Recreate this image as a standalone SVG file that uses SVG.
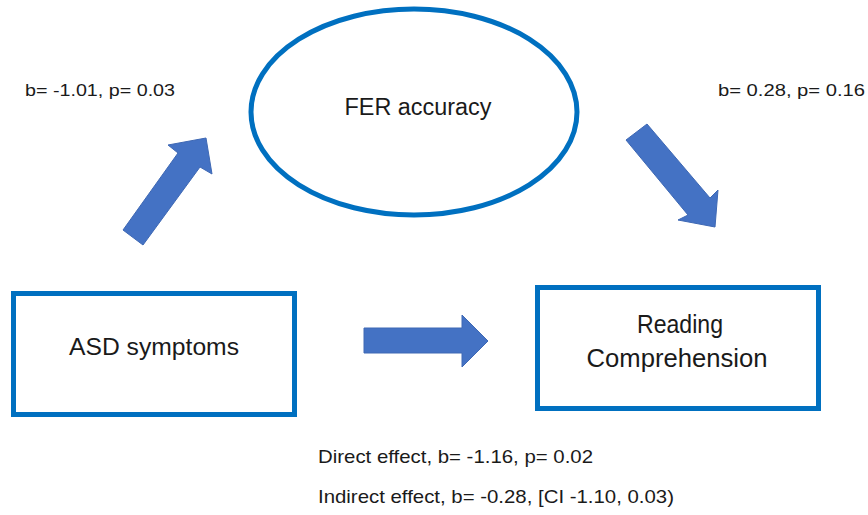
<svg xmlns="http://www.w3.org/2000/svg" width="868" height="515" viewBox="0 0 868 515">
  <style>
    .node { fill: #FFFFFF; stroke: #0070C0; stroke-width: 5; }
    .arrow { fill: #4472C4; stroke: #3E68B4; stroke-width: 1; stroke-linejoin: miter; }
    .t { font-family: "Liberation Sans", Arial, sans-serif; fill: #1A1A1A; }
    .big { font-size: 23px; }
    .small { font-size: 16px; }
    .mid { font-size: 19px; }
  </style>
  <rect x="0" y="0" width="868" height="515" fill="#FFFFFF"/>

  <g id="fer-accuracy">
    <ellipse class="node" cx="414" cy="112" rx="163" ry="103" stroke-width="4.5"/>
    <text class="t big" x="418" y="115" text-anchor="middle" textLength="147" lengthAdjust="spacingAndGlyphs">FER accuracy</text>
  </g>

  <g id="asd-symptoms">
    <rect class="node" x="13.5" y="293.5" width="281" height="121"/>
    <text class="t big" x="154" y="355" text-anchor="middle" textLength="170" lengthAdjust="spacingAndGlyphs">ASD symptoms</text>
  </g>

  <g id="reading-comprehension">
    <rect class="node" x="537.5" y="287.5" width="281" height="121"/>
    <text class="t" font-size="25" x="680" y="333" text-anchor="middle" textLength="86" lengthAdjust="spacingAndGlyphs">Reading</text>
    <text class="t" font-size="25" x="677" y="367" text-anchor="middle" textLength="181" lengthAdjust="spacingAndGlyphs">Comprehension</text>
  </g>

  <g id="connectors">
    <polygon class="arrow" points="123,230 178,153 168,145 206,138 212,174 200,167 143,245"/>
    <polygon class="arrow" points="647,124 710,198 718,190 715,227 678,220 688,215 626,140"/>
    <polygon class="arrow" points="364,328 462,328 462,315 488,341 462,367 462,353 364,353"/>
  </g>

  <g id="labels">
    <text class="t small" x="25" y="96" textLength="150" lengthAdjust="spacingAndGlyphs">b= -1.01, p= 0.03</text>
    <text class="t small" x="718" y="96" textLength="147" lengthAdjust="spacingAndGlyphs">b= 0.28, p= 0.16</text>
    <text class="t mid" x="318" y="463" textLength="275" lengthAdjust="spacingAndGlyphs">Direct effect, b= -1.16, p= 0.02</text>
    <text class="t mid" x="318" y="503" textLength="356" lengthAdjust="spacingAndGlyphs">Indirect effect, b= -0.28, [CI -1.10, 0.03)</text>
  </g>
</svg>
